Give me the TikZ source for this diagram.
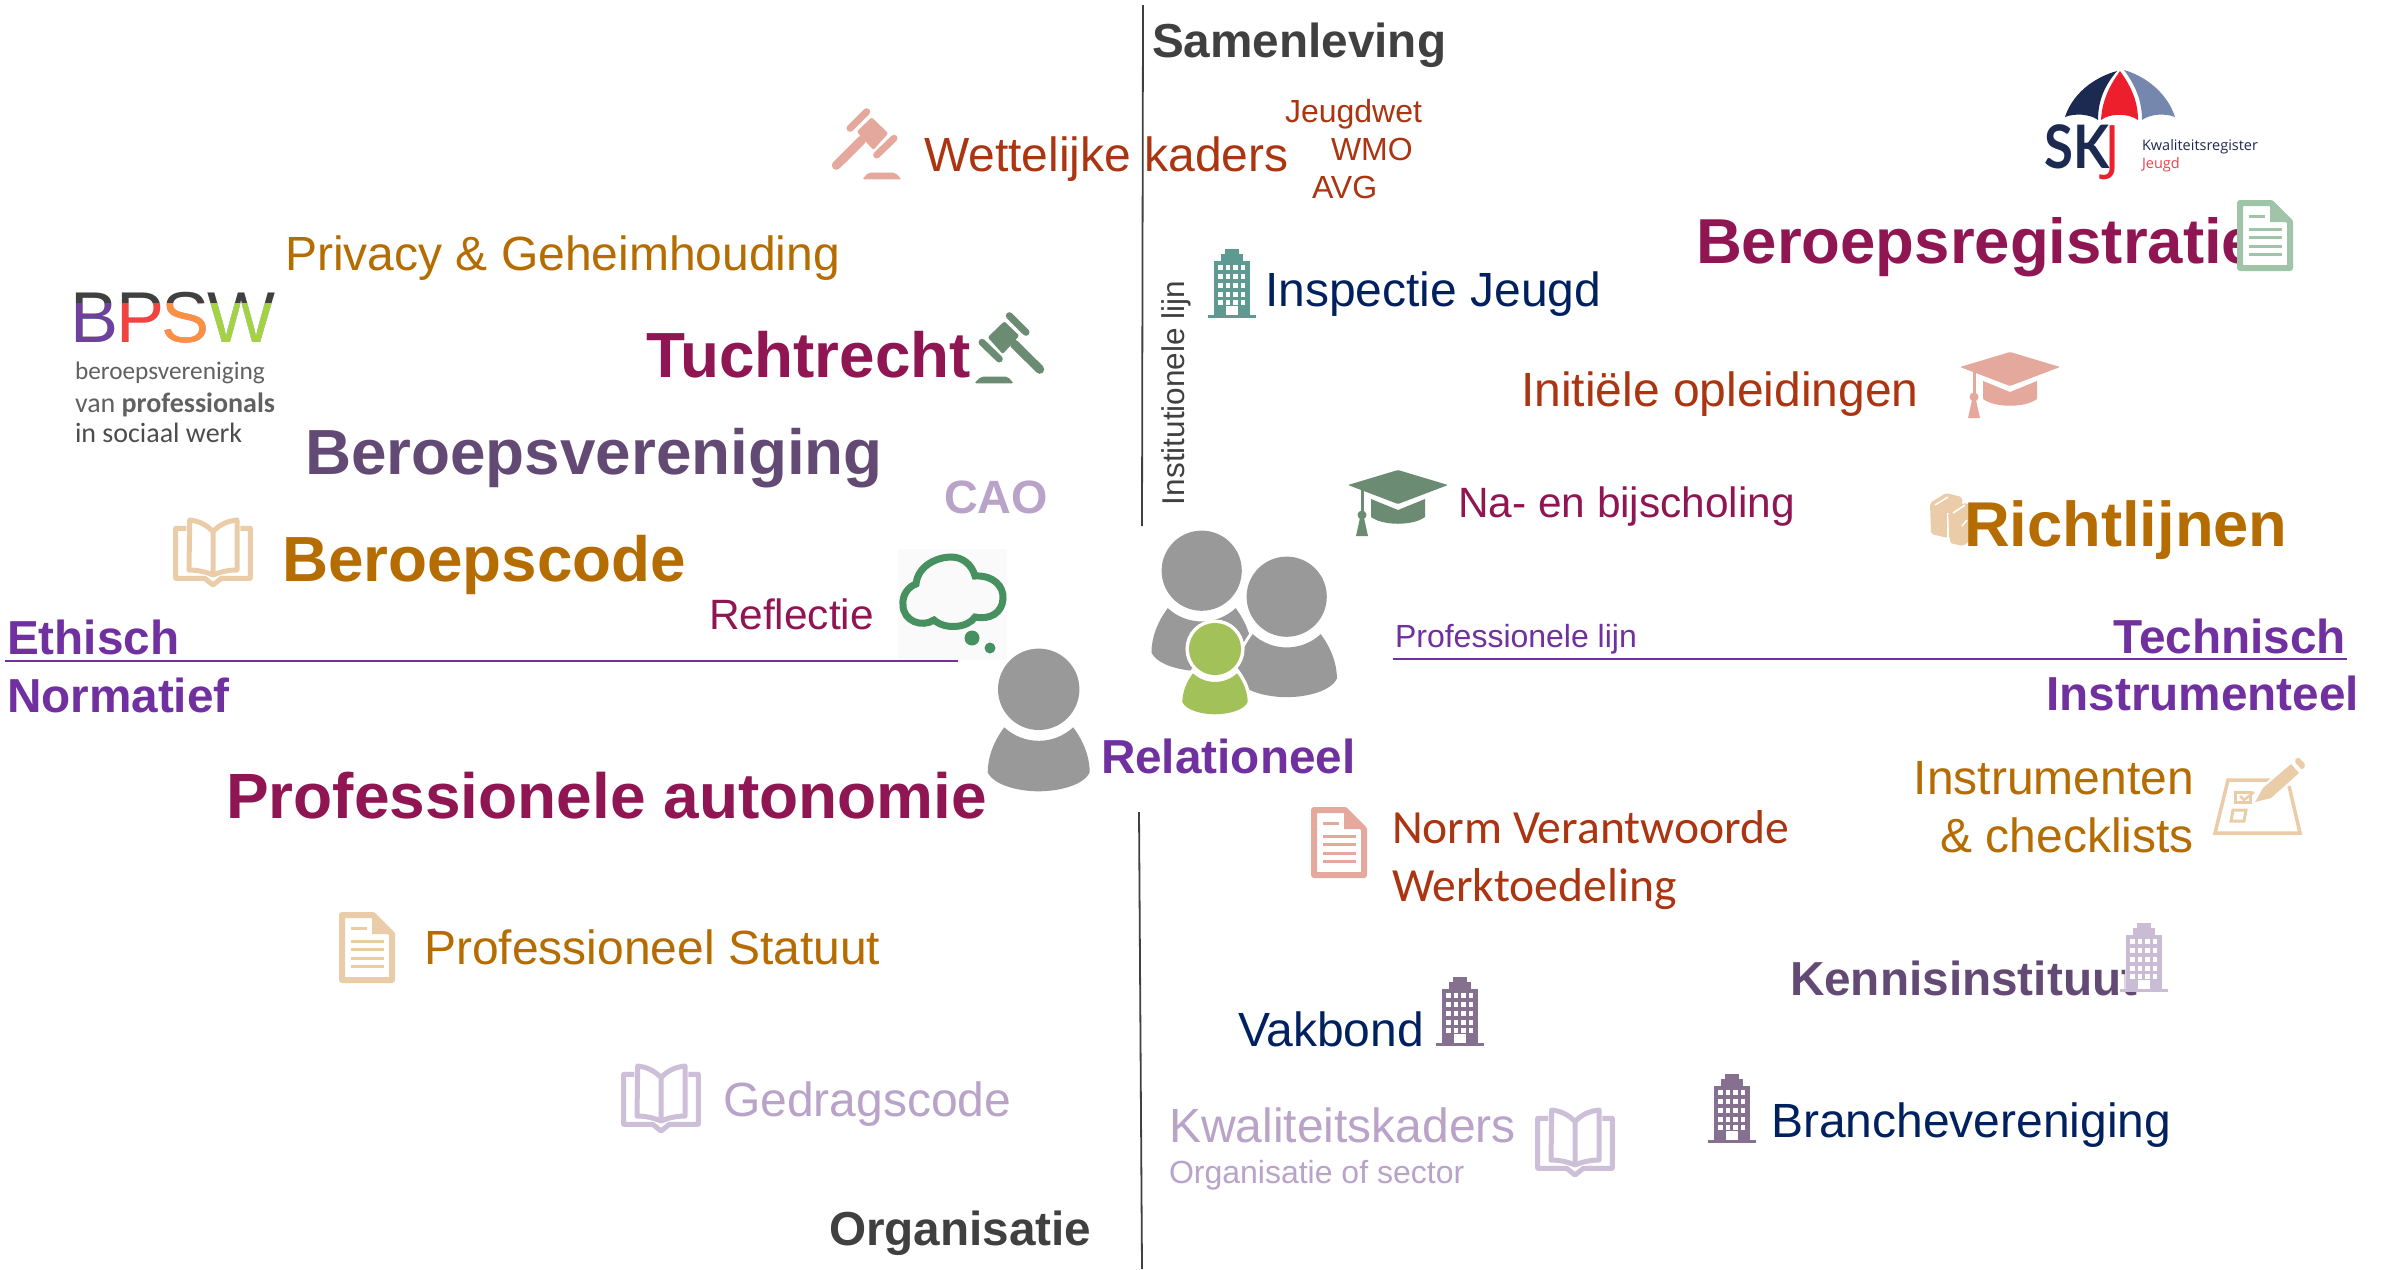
\documentclass[tikz,border=0pt]{standalone}
\usepackage{fontspec}
\setmainfont{Liberation Sans}
\newfontfamily\carl{Carlito}
\newfontfamily\latofam{Lato}
\newfontfamily\opensans{Open Sans}
\definecolor{rust}{HTML}{AB3510}
\definecolor{mag}{HTML}{8F1652}
\definecolor{ochre}{HTML}{B56C00}
\definecolor{vio}{HTML}{7030A0}
\definecolor{navy}{HTML}{002060}
\definecolor{dark}{HTML}{404040}
\definecolor{plum}{HTML}{634A75}
\definecolor{lilac}{HTML}{B9A3C8}
\definecolor{salmon}{HTML}{E5A89C}
\definecolor{sage}{HTML}{6B8B72}
\definecolor{beige}{HTML}{EACDA8}
\definecolor{mint}{HTML}{A0C4A8}
\definecolor{teal}{HTML}{5F9A92}
\definecolor{bldg}{HTML}{85708F}
\definecolor{bldgl}{HTML}{C9BCD4}
\definecolor{lilacbk}{HTML}{CDBFD8}
\definecolor{persongrey}{HTML}{999999}
\definecolor{pgreen}{HTML}{A3C159}
\definecolor{cloudg}{HTML}{479160}
\definecolor{skjnavy}{HTML}{1C2A52}
\definecolor{skjred}{HTML}{EE1F2D}
\definecolor{skjblue}{HTML}{7587AD}
\definecolor{bpswred}{HTML}{F04438}
\definecolor{bpswor}{HTML}{F9921E}
\definecolor{bpswgr}{HTML}{A4D233}
\tikzset{
  lb/.style={anchor=base west,inner sep=0pt,outer sep=0pt},
  lbe/.style={anchor=base east,inner sep=0pt,outer sep=0pt},
  reg/.style={font=\fontsize{#1}{#1}\selectfont},
  bld/.style={font=\fontsize{#1}{#1}\selectfont\bfseries},
  axisline/.style={draw=dark,line width=1.8pt},
  proline/.style={draw=vio,line width=2pt},
}
% icons: local coordinates in pixels
\newcommand{\icgavel}[2]{\begin{scope}[#1]
  \draw[#2,line width=7pt,line cap=round] (18,19.3)--(34.7,2.7);
  \draw[#2,line width=7pt,line cap=round] (44.7,46)--(62,29.3);
  \draw[#2,line width=9pt,line cap=round] (1.3+3,59.3-3)--(29.7,31);
  \fill[#2,rounded corners=2pt] (24.7,22.7)--(39.7,8.3)--(56.3,24.3)--(41.3,41)--cycle;
  \fill[#2,rounded corners=2pt] (30.3,70.3)--(69.7,70.3)--(63,63.7)--(36.3,63.7)--cycle;
\end{scope}}
\newcommand{\icbook}[2]{\begin{scope}[#1]
  \draw[#2,line width=5pt,line join=round] (12.3,10.3)--(1.7,10.3)--(1.7,60.3)--(30.7,60.3)--(39,67)--(47.3,60.3)--(76.3,60.3)--(76.3,10.3)--(66.3,10.3);
  \draw[#2,line width=5pt,line join=round] (39,13.7) .. controls (32,6) and (24,3) .. (15.7,2)--(15,52) .. controls (24,52) and (32,54) .. (39,57)--cycle;
  \draw[#2,line width=5pt,line join=round] (39,13.7) .. controls (46,6) and (54,3) .. (63,2)--(63,52) .. controls (54,52) and (46,54) .. (39,57);
\end{scope}}
\newcommand{\icdoc}[2]{\begin{scope}[#1]
  \draw[#2,fill=white,line width=6pt,line join=round] (3,3)--(34,3)--(53,22)--(53,68)--(3,68)--cycle;
  \fill[#2] (33,3)--(53,22)--(33,22)--cycle;
  \draw[#2,line width=3pt] (12,16)--(28,16);
  \foreach \yy in {29,37,46,54}{\draw[#2,line width=3pt] (12,\yy)--(45,\yy);}
\end{scope}}
\newcommand{\icbuilding}[2]{\begin{scope}[#1]
  \fill[#2] (0,66)--(48,66)--(48,69)--(0,69)--cycle;
  \fill[#2] (6,12) rectangle (42,66);
  \fill[#2] (13,5) rectangle (35,12);
  \fill[#2] (17,0) rectangle (31,5);
  \foreach \xx in {10,17.5,25,32.5}{\foreach \yy in {16,25,34,43,51}{\fill[white] (\xx,\yy) rectangle ++(4.5,5);}}
  \fill[white] (18,57) rectangle (30,66);
\end{scope}}
\newcommand{\iccap}[2]{\begin{scope}[#1]
  \fill[#2,rounded corners=1pt] (50,0)--(100,15)--(50,34)--(0,15)--cycle;
  \fill[#2] (23,29)--(50,40)--(77,29)--(77,47) .. controls (65,56) and (35,56) .. (23,47)--cycle;
  \draw[#2,line width=3pt] (14,20)--(14,45);
  \fill[#2] (14,45) circle (4.5);
  \fill[#2] (12,48)--(16,48)--(20,66)--(8,66)--cycle;
\end{scope}}
\newcommand{\icperson}[3]{\begin{scope}[#1]
  \def\bodyshape{(-34.5,38) .. controls (-15,56) and (15,56) .. (34.5,38) .. controls (45,52) and (51,68) .. (51,83) .. controls (45,96) and (20,102) .. (0,102) .. controls (-20,102) and (-45,96) .. (-51,83) .. controls (-51,68) and (-45,52) .. (-34.5,38) -- cycle}
  \path[draw=white,fill=white,line width=#3] \bodyshape;
  \path[draw=white,fill=white,line width=#3] (0,0) circle (40.7);
  \fill[#2] \bodyshape;
  \fill[#2] (0,0) circle (40.7);
\end{scope}}
\begin{document}
\begin{tikzpicture}[x=1pt,y=-1pt]
\useasboundingbox (0,0) rectangle (2381,1269);
\fill[white] (0,0) rectangle (2381,1269);

% axes
\fill[black!2] (898,549) rectangle (1007,660);
\coordinate (vtop) at (1143,5);
\coordinate (vmid) at (1142,526);
\coordinate (vlow) at (1139,812);
\coordinate (vbot) at (1142,1269);
\coordinate (hl) at (5,661);
\coordinate (hlm) at (958,661);
\coordinate (hr) at (1393,659);
\coordinate (hre) at (2347,659);
\draw[axisline] (vtop)--(vmid);
\draw[axisline] (vlow)--(vbot);
\draw[proline] (hl)--(hlm);
\draw[proline] (hr)--(hre);

% BPSW logo
\node[lb,font=\fontsize{72}{72}\selectfont,text=dark] (bpsw) at (70,342) {B\kern-2ptP\kern-3ptS\kern-2ptW};
\begin{scope}[blend mode=lighten]
\fill[vio] (70,303) rectangle (119.5,350);
\fill[bpswred] (119.5,303) rectangle (163,350);
\fill[bpswor] (163,303) rectangle (206,350);
\fill[bpswgr] (206,303) rectangle (280,350);
\end{scope}
\node[lb,font=\fontsize{25.3}{25.3}\selectfont\carl,text=black!62] (bp1) at (75,379) {beroepsvereniging};
\node[lb,font=\fontsize{28}{28}\selectfont\carl,text=black!62] (bp2) at (75,412) {van \bfseries professionals};
\node[lb,font=\fontsize{28}{28}\selectfont\carl,text=black!70] (bp3) at (75,442) {in sociaal werk};

% SKJ logo
\fill[skjnavy] (2117,71) .. controls (2092,78) and (2072,95) .. (2065,117) .. controls (2075,113) and (2090,114) .. (2098,120) .. controls (2098,100) and (2105,85) .. (2117,71) -- cycle;
\fill[skjred] (2120,71) .. controls (2110,85) and (2102,100) .. (2101,120) .. controls (2110,113) and (2128,113) .. (2138,120) .. controls (2138,100) and (2130,85) .. (2120,71) -- cycle;
\fill[skjblue] (2124,70) .. controls (2135,85) and (2142,100) .. (2142,120) .. controls (2150,114) and (2165,113) .. (2175,117) .. controls (2168,95) and (2148,77) .. (2124,70) -- cycle;
\node[lb,font=\fontsize{60}{60}\selectfont\latofam\bfseries,text=skjnavy] (skj) at (2044,168) {\scalebox{.88}[1]{SK}\kern-5pt\textcolor{skjred}{\opensans\mdseries J}};
\node[lb,font=\fontsize{14.5}{14.5}\selectfont\opensans,text=skjnavy] (skj1) at (2142,150) {Kwaliteitsregister};
\node[lb,font=\fontsize{14.5}{14.5}\selectfont\opensans,text=skjred!85!white] (skj2) at (2142,168) {Jeugd};

% texts with regular weight
\node[lb,reg=48,text=rust] (wet) at (924,171.5) {Wettelijke kaders};
\node[lb,reg=32,text=rust] (jw) at (1285,122.5) {Jeugdwet};
\node[lb,reg=32,text=rust] (wmo) at (1331,160) {WMO};
\node[lb,reg=32,text=rust] (avg) at (1312,198) {AVG};
\node[lb,reg=48,text=ochre] (priv) at (285,270.5) {Privacy \& Geheimhouding};
\node[lb,reg=48,text=navy] (insp) at (1265,306.5) {Inspectie Jeugd};
\node[lb,reg=48,text=rust] (init) at (1521,406.5) {Initiële opleidingen};
\node[lb,reg=42.4,text=mag] (nabij) at (1458,517.5) {Na- en bijscholing};
\node[lb,reg=42.4,text=mag] (refl) at (709,629) {Reflectie};
\node[lb,reg=32,text=vio] (profl) at (1395,647.5) {Professionele lijn};
\node[lb,reg=31.5,text=dark,rotate=90] (instl) at (1184,505) {Institutionele lijn};
\node[lb,font=\fontsize{47.6}{47.6}\selectfont\carl,text=rust] (norm1) at (1392,843.5) {Norm Verantwoorde};
\node[lb,font=\fontsize{47.6}{47.6}\selectfont\carl,text=rust] (norm2) at (1392,901.5) {Werktoedeling};
\node[lbe,reg=48,text=ochre] (instr1) at (2194,794.5) {Instrumenten};
\node[lbe,reg=48,text=ochre] (instr2) at (2194,852.5) {\& checklists};
\node[lb,reg=48,text=ochre] (stat) at (424,964.5) {Professioneel Statuut};
\node[lb,reg=48,text=lilac] (gedrag) at (723,1116.5) {Gedragscode};
\node[lb,reg=48,text=navy] (vak) at (1238,1046.5) {Vakbond};
\node[lb,reg=48,text=lilac] (kwal) at (1169,1142) {Kwaliteitskaders};
\node[lb,reg=32,text=lilac] (orgs) at (1169,1183.5) {Organisatie of sector};
\node[lb,reg=48,text=navy] (branche) at (1771,1137) {Branchevereniging};

% books under Richtlijnen
\fill[beige,rounded corners=2pt] (1930,503)--(1946,493)--(1962,497)--(1962,530)--(1948,538)--(1931,534)--cycle;
\draw[white,line width=1.5pt] (1935,505)--(1948,497);
\draw[white,line width=1.5pt] (1948,513)--(1948,538);
\fill[beige,rounded corners=2pt] (1948,513)--(1963,503)--(1977,505)--(1977,535)--(1963,546)--(1950,543)--cycle;
\draw[white,line width=1.5pt] (1953,513)--(1965,505);
\draw[white,line width=1.5pt] (1962,526)--(1967,520);

% bold texts
\node[lb,bld=47.7,text=dark] (sam) at (1152,57.5) {Samenleving};
\node[lb,bld=63.5,text=mag] (beroepsreg) at (1696,263.5) {Beroepsregistratie};
\node[lb,bld=63.8,text=mag] (tucht) at (646,377) {Tuchtrecht};
\node[lb,bld=63.8,text=plum] (beroepsver) at (305,474.5) {Beroepsvereniging};
\node[lb,bld=46.7,text=lilac] (cao) at (944,513.5) {CAO};
\node[lb,bld=63.8,text=ochre] (code) at (282,581.5) {Beroepscode};
\node[lb,bld=63.3,text=ochre] (richt) at (1964,546.5) {Richtlijnen};
\node[lb,bld=47.7,text=vio] (eth) at (7,654.5) {Ethisch};
\node[lb,bld=47.7,text=vio] (norm) at (7,712.5) {Normatief};
\node[lbe,bld=47.7,text=vio] (techn) at (2346,653) {Technisch};
\node[lbe,bld=47.7,text=vio] (instrum) at (2359,710.5) {Instrumenteel};
\node[lb,bld=47.7,text=vio] (rel) at (1101,773) {Relationeel};
\node[lb,bld=64,text=mag] (auto) at (226,818.5) {Professionele autonomie};
\node[lb,bld=47.7,text=plum] (kenn) at (1790,995.5) {Kennisinstituut};
\node[lb,bld=47.7,text=dark] (org) at (829,1245.5) {Organisatie};

% icons
\icgavel{shift={(832,109)}}{salmon}
\icgavel{shift={(1044,313)},xscale=-1}{sage}
\icbook{shift={(174,518)}}{beige}
\icbook{shift={(622,1064)}}{lilacbk}
\icbook{shift={(1536,1108)}}{lilacbk}
\icdoc{shift={(2237,200)}}{mint}
\icdoc{shift={(1311,807)}}{salmon}
\icdoc{shift={(339,912)}}{beige}
\icbuilding{shift={(1208,249)}}{teal}
\icbuilding{shift={(1436,977)}}{bldg}
\fill[white,opacity=.8] (2125,934) rectangle (2162,991);
\icbuilding{shift={(2120,923)}}{bldgl}
\icbuilding{shift={(1708,1074)}}{bldg}
\iccap{shift={(1960,352)}}{salmon}
\iccap{shift={(1348,470)}}{sage}

% cloud
\draw[cloudg,line width=7pt] (916,584) .. controls (918,565) and (938,557) .. (951,557) .. controls (963,557) and (972,565) .. (975,576) .. controls (993,575) and (1004,586) .. (1003,599) .. controls (1002,613) and (990,620) .. (975,617) .. controls (968,628) and (945,630) .. (934,620) .. controls (922,628) and (903,621) .. (903,605) .. controls (902,595) and (908,587) .. (916,584) -- cycle;
\fill[cloudg] (972,638) circle (7.5);
\fill[cloudg] (990,648) circle (5.5);

% checklist and pencil
\draw[beige,line width=3.5pt] (2270,780)--(2228,780)--(2215,833)--(2300,833)--(2289,786);
\draw[beige,line width=3pt] (2235,792) rectangle (2250,802);
\draw[beige,line width=2.5pt] (2240,796)--(2244,800)--(2254,792);
\draw[beige,line width=3pt] (2233,810)--(2246,810)--(2244,821)--(2231,821)--cycle;
\fill[white] (2252,804)--(2262,786)--(2291,761)--(2302,773)--(2272,800)--cycle;
\fill[beige] (2255,802)--(2263,788)--(2291,764)--(2299,773)--(2271,798)--cycle;
\fill[beige,rounded corners=2pt] (2294,761)--(2298,757)--(2306,765)--(2302,770)--cycle;

% people
\icperson{shift={(1201.7,570.7)},scale=.985}{persongrey}{0pt}
\icperson{shift={(1286.7,596.7)},scale=.985}{persongrey}{6pt}
\icperson{shift={(1215,649)},scale=.64}{pgreen}{7pt}
\icperson{shift={(1038.7,689.3)}}{persongrey}{0pt}
\end{tikzpicture}
\end{document}
